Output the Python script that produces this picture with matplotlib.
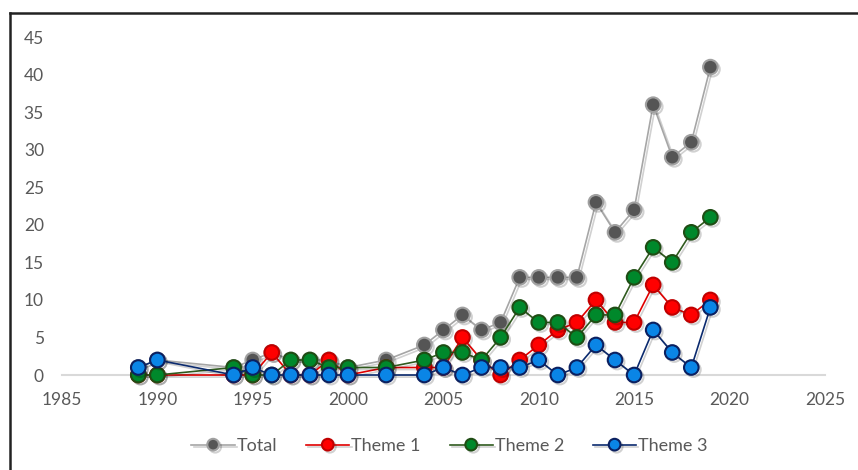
import matplotlib
matplotlib.use("Agg")
import matplotlib.pyplot as plt
import matplotlib.patheffects as pe
from matplotlib.lines import Line2D

plt.rcParams["font.family"] = ["Lato", "DejaVu Sans"]

# data
years = [1989, 1990, 1994, 1995, 1996, 1997, 1998, 1999, 2000, 2002, 2004,
         2005, 2006, 2007, 2008, 2009, 2010, 2011, 2012, 2013, 2014, 2015,
         2016, 2017, 2018, 2019]
total = [1, 2, 1, 2, 3, 2, 2, 2, 1, 2, 4,
         6, 8, 6, 7, 13, 13, 13, 13, 23, 19, 22,
         36, 29, 31, 41]
theme1 = [0, 0, 0, 0, 3, 0, 0, 2, 0, 1, 1,
          1, 5, 2, 0, 2, 4, 6, 7, 10, 7, 7,
          12, 9, 8, 10]
theme2 = [0, 0, 1, 0, 0, 2, 2, 1, 1, 1, 2,
          3, 3, 2, 5, 9, 7, 7, 5, 8, 8, 13,
          17, 15, 19, 21]
theme3 = [1, 2, 0, 1, 0, 0, 0, 0, 0, 0, 0,
          1, 0, 1, 1, 1, 2, 0, 1, 4, 2, 0,
          6, 3, 1, 9]

labels = ["Total", "Theme 1", "Theme 2", "Theme 3"]
series = [total, theme1, theme2, theme3]
line_colors = ["#a6a6a6", "#e00000", "#2f5a1e", "#0b2a6e"]
face_colors = ["#555555", "#ff0000", "#00882b", "#0a85e6"]
edge_colors = ["#a0a0a0", "#c00000", "#1f4d14", "#0b2060"]

fig = plt.figure(figsize=(8.58, 4.70), dpi=100)
ax = fig.add_axes([0.0723, 0.2021, 0.889, 0.719])

shadow = [pe.SimpleLineShadow(offset=(1.5, -1.5), shadow_color="black", alpha=0.18),
          pe.Normal()]

for vals, lab, lc, fc, ec in zip(series, labels, line_colors, face_colors, edge_colors):
    ax.plot(years, vals, color=lc, lw=1.2, marker="o", markersize=10.5,
            markerfacecolor=fc, markeredgecolor=ec, markeredgewidth=1.5,
            label=lab, path_effects=shadow, clip_on=False)

ax.set_xlim(1985, 2025)
ax.set_ylim(0, 45)
ax.set_xticks(range(1985, 2026, 5))
ax.set_yticks(range(0, 46, 5))
for s in ["top", "right", "left"]:
    ax.spines[s].set_visible(False)
ax.spines["bottom"].set_color("#d9d9d9")
ax.spines["bottom"].set_linewidth(1.5)
ax.spines["bottom"].set_zorder(0)
ax.tick_params(length=0, labelsize=12.5, colors="#595959")
ax.tick_params(axis="x", pad=12)
ax.tick_params(axis="y", pad=13)

ax.legend(loc="center", bbox_to_anchor=(0.508, -0.21), ncol=4, frameon=False,
          fontsize=13, labelcolor="#595959", handlelength=2.4,
          columnspacing=1.6, handletextpad=0.1, markerscale=0.8)

# frame edges visible in the crop
fig.add_artist(Line2D([10 / 858, 10 / 858], [0, 1 - 13 / 470],
                      transform=fig.transFigure, color="#222222", lw=1.8))
fig.add_artist(Line2D([10 / 858, 1], [1 - 13 / 470, 1 - 13 / 470],
                      transform=fig.transFigure, color="#222222", lw=1.8))

fig.savefig("out.png", dpi=100)
